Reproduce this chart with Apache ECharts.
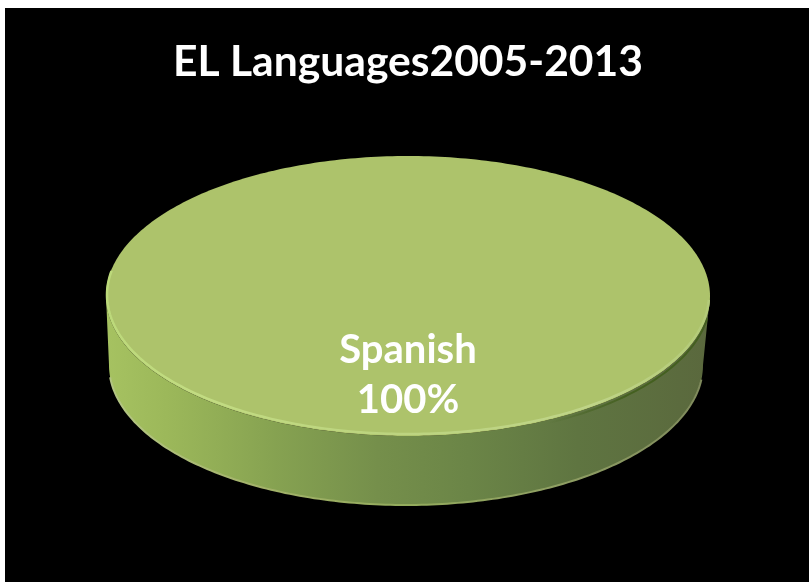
<!DOCTYPE html>
<html>
<head>
<meta charset="utf-8">
<style>
  html, body { margin: 0; padding: 0; background: #fff; }
  #chart { width: 809px; height: 582px; }
</style>
<script src="https://cdn.jsdelivr.net/npm/echarts@6/dist/echarts.min.js"></script>
</head>
<body>
<div id="chart"></div>
<script>
// Language shares of English learners, 2005-2013
const chartTitle = 'EL Languages2005-2013';
const languages = ['Spanish'];
const shares = [100];

const FONT = 'Lato, "Open Sans", sans-serif';
const total = shares.reduce((a, b) => a + b, 0);

// Ellipse geometry of the tilted disc: upper face and slightly narrower base
const face = { cx: 408, cy: 296, rx: 302, ry: 140 };
const base = { cx: 406, cy: 365, rx: 297, ry: 140 };

function arc(e, fromDeg, toDeg) {
  const pts = [];
  const step = fromDeg < toDeg ? 1 : -1;
  for (let d = fromDeg; step > 0 ? d <= toDeg : d >= toDeg; d += step) {
    const t = d * Math.PI / 180;
    pts.push([e.cx + e.rx * Math.cos(t), e.cy + e.ry * Math.sin(t)]);
  }
  return pts;
}

function hGradient(stops) {
  return new echarts.graphic.LinearGradient(0, 0, 1, 0,
    stops.map(s => ({ offset: s[0], color: s[1] })));
}

function renderSlice(params, api) {
  const share = api.value(0);
  const sweep = share / total * 360;
  const frontEnd = Math.min(180, sweep);
  const name = languages[params.dataIndex];

  return {
    type: 'group',
    children: [
      // Curved outer wall of the disc, lit from the left
      {
        type: 'polygon',
        shape: { points: arc(face, 0, frontEnd).concat(arc(base, frontEnd, 0)) },
        style: {
          fill: hGradient([
            [0, '#a6c261'], [0.1, '#9cb85a'], [0.28, '#86a251'], [0.45, '#758f4b'],
            [0.6, '#6b8547'], [0.78, '#5f7541'], [1, '#5a683d']
          ])
        }
      },
      // Soft light catching the lower edge
      {
        type: 'polyline',
        shape: { points: arc(base, 6, 175) },
        style: {
          fill: null, lineWidth: 2,
          stroke: hGradient([
            [0, '#b4c684'], [0.25, '#a3b26a'], [0.5, '#93ab5c'], [0.75, '#8f9f63'], [1, '#7f8a5c']
          ])
        }
      },
      // Upper face, filled over the share's sweep
      {
        type: 'polygon',
        shape: { points: arc(face, 0, sweep) },
        style: { fill: '#adc36b' }
      },
      // Shadow line below the rim on the right
      {
        type: 'polyline',
        shape: { points: arc({ cx: face.cx, cy: face.cy + 3, rx: face.rx, ry: face.ry }, 8, 62) },
        style: {
          fill: null, lineWidth: 2,
          stroke: hGradient([[0, 'rgba(62,92,24,0)'], [0.5, 'rgba(62,92,24,0.8)'], [1, 'rgba(62,92,24,0.8)']])
        }
      },
      // Bright bevel around the front of the face
      {
        type: 'polyline',
        shape: { points: arc({ cx: face.cx, cy: face.cy - 1, rx: face.rx - 1, ry: face.ry - 1 }, 2, 190) },
        style: {
          fill: null, lineWidth: 2.5,
          stroke: hGradient([
            [0, '#bcd97a'], [0.15, '#c2dc82'], [0.45, '#bcd47f'], [0.8, '#bfd488'], [1, '#b3ca78']
          ])
        }
      },
      // Value label on the face
      {
        type: 'text',
        style: {
          x: 408, y: 375,
          text: name + '\n' + share + '%',
          fill: '#fff',
          align: 'center',
          verticalAlign: 'middle',
          font: 'bold 40px ' + FONT,
          lineHeight: 50
        }
      }
    ]
  };
}

const chart = echarts.init(document.getElementById('chart'), null, { renderer: 'canvas' });
chart.setOption({
  animation: false,
  backgroundColor: '#ffffff',
  graphic: [{
    type: 'rect',
    z: -10,
    shape: { x: 5, y: 8, width: 804, height: 574 },
    style: { fill: '#000000' }
  }],
  title: {
    text: chartTitle,
    left: 403,
    top: 36,
    textAlign: 'center',
    textStyle: { color: '#ffffff', fontFamily: FONT, fontWeight: 'bold', fontSize: 42.6 }
  },
  series: [{
    type: 'custom',
    coordinateSystem: 'none',
    renderItem: renderSlice,
    data: shares.map(v => [v])
  }]
});
</script>
</body>
</html>
